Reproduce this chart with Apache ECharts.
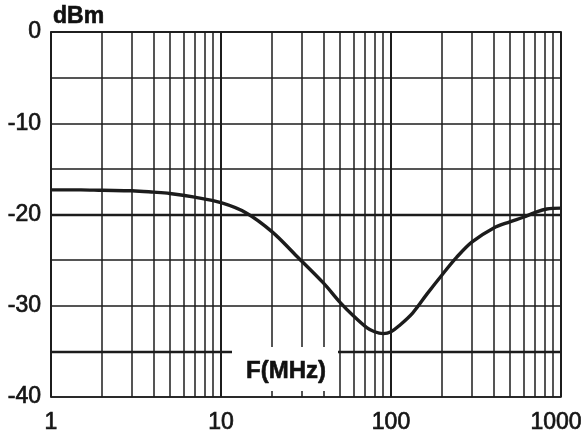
<!DOCTYPE html>
<html>
<head>
<meta charset="utf-8">
<script src="https://cdn.jsdelivr.net/npm/echarts@6/dist/echarts.min.js"></script>
<style>
  html, body { margin: 0; padding: 0; background: #fff; }
  #chart { width: 584px; height: 433px; }
</style>
</head>
<body>
<div id="chart"></div>
<script>
// response curve
const freqMHz = [1, 1.5, 2, 3, 4, 5, 7, 10, 14, 20, 28, 40, 50, 60, 72, 80, 90, 100, 113, 134, 163, 200, 243, 300, 400, 500, 600, 700, 825, 1000];
const levelDbm = [-17.3, -17.3, -17.35, -17.4, -17.55, -17.7, -18.1, -18.7, -19.8, -21.9, -24.6, -27.5, -29.6, -31.1, -32.4, -32.85, -33.05, -32.85, -32.1, -30.8, -28.7, -26.6, -24.7, -23.0, -21.5, -20.8, -20.3, -19.8, -19.4, -19.3];

// log grid lines between decades
const minorFreqs = [2, 3, 4, 5, 6, 7, 8, 9, 20, 30, 40, 50, 60, 70, 80, 90, 200, 300, 400, 500, 600, 700, 800, 900];
// heavier horizontal lines
const heavyLevels = [-20, -35];

const ink = "#1c1c1c";
const font = "'Liberation Sans', Arial, sans-serif";

const labelStyle = {
  fontFamily: font,
  fontSize: 23,
  color: "#151515",
  textBorderColor: "#151515",
  textBorderWidth: 0.7,
};

const chart = echarts.init(document.getElementById("chart"));

chart.setOption({
  animation: false,
  grid: {
    left: 51,
    right: 23,
    top: 32,
    bottom: 36,
    outerBoundsMode: "none",
    show: true,
    borderColor: ink,
    borderWidth: 1.5,
  },
  xAxis: {
    type: "log",
    logBase: 10,
    min: 1,
    max: 1000,
    axisLine: { show: true, lineStyle: { color: ink, width: 1.5 } },
    axisTick: { show: false },
    splitLine: { show: true, lineStyle: { color: ink, width: 2 } },
    axisLabel: Object.assign({}, labelStyle, {
      margin: 14,
      formatter: (v) => {
        const n = Math.round(v);
        return n === 1000 ? "{e|1000}" : String(n);
      },
      rich: {
        e: Object.assign({}, labelStyle, { padding: [0, 10, 0, 0] }),
      },
    }),
  },
  yAxis: {
    type: "value",
    min: -40,
    max: 0,
    interval: 5,
    axisLine: { show: true, lineStyle: { color: ink, width: 1.5 } },
    axisTick: { show: false },
    splitLine: { show: true, lineStyle: { color: ink, width: 1.5 } },
    axisLabel: Object.assign({}, labelStyle, {
      margin: 10,
      formatter: (v) => (v % 10 === 0 ? String(v) : ""),
    }),
  },
  series: [
    {
      type: "line",
      data: [],
      z: 1,
      silent: true,
      markLine: {
        silent: true,
        symbol: "none",
        animation: false,
        label: { show: false },
        lineStyle: { color: ink, width: 1.5, type: "solid" },
        data: minorFreqs
          .map((f) => ({ xAxis: f }))
          .concat(heavyLevels.map((l) => ({ yAxis: l, lineStyle: { width: 2.3 } }))),
      },
    },
    {
      type: "line",
      z: 3,
      data: freqMHz.map((f, i) => [f, levelDbm[i]]),
      smooth: 0.35,
      showSymbol: false,
      lineStyle: { color: ink, width: 3.4 },
    },
  ],
  graphic: [
    {
      type: "text",
      z: 101,
      x: 53,
      y: 17,
      style: {
        text: "dBm",
        font: "bold 23px 'Liberation Sans', Arial, sans-serif",
        fill: "#111",
        stroke: "#111",
        lineWidth: 0.6,
        textAlign: "left",
        textVerticalAlign: "middle",
      },
    },
    {
      type: "rect",
      z: 100,
      shape: { x: 232, y: 347, width: 106, height: 44 },
      style: { fill: "#fff" },
    },
    {
      type: "text",
      z: 101,
      x: 286,
      y: 371,
      style: {
        text: "F(MHz)",
        font: "bold 24px 'Liberation Sans', Arial, sans-serif",
        fill: "#111",
        stroke: "#111",
        lineWidth: 0.6,
        textAlign: "center",
        textVerticalAlign: "middle",
      },
    },
  ],
});
</script>
</body>
</html>
